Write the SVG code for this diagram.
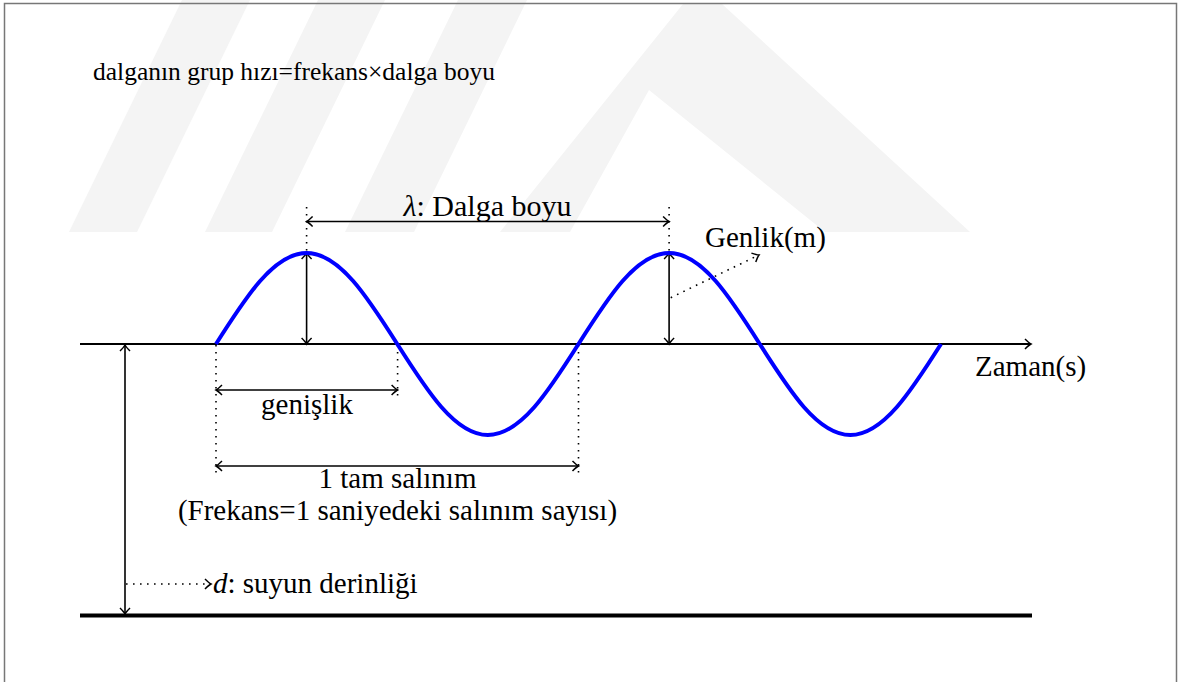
<svg xmlns="http://www.w3.org/2000/svg" width="1179" height="682" viewBox="0 0 1179 682">
<style>
text{font-family:"Liberation Serif","Times New Roman",serif;font-size:29px;fill:#000}
.title{font-size:25.5px}
.lam{font-size:30px}
.it{font-style:italic}
.ln{stroke:#000;stroke-width:1.6;fill:none}
.dot{stroke:#000;stroke-width:1.6;fill:none;stroke-dasharray:1.6 5.4}
.wm{fill:#f4f4f4;stroke:none}
</style>
<defs>
<marker id="ah" viewBox="-8 -6 10 12" markerWidth="10" markerHeight="12" refX="0" refY="0" orient="auto-start-reverse" markerUnits="userSpaceOnUse">
<path d="M-6,-5 Q-2,-1 0,0 Q-2,1 -6,5" fill="none" stroke="#000" stroke-width="1.5"/>
</marker>
</defs>
<rect x="0" y="0" width="1179" height="682" fill="#fff"/>
<g id="watermark">
<polygon class="wm" points="69,232 137,232 250,0 182,0"/>
<polygon class="wm" points="205,232 272,232 385,0 318,0"/>
<polygon class="wm" points="345,232 414,232 527,0 458,0"/>
<polygon class="wm" points="500,232 570,232 649,90 825,232 970,232 722,4 683,4"/>
</g>
<rect id="frame" x="4.5" y="3.5" width="1172" height="700" fill="none" stroke="#777" stroke-width="1.5"/>
<g id="connectors">
<line id="axis" x1="80" y1="344" x2="1031" y2="344" stroke="#000" stroke-width="2" marker-end="url(#ah)"/>
<line id="seabed" x1="80" y1="615.5" x2="1032" y2="615.5" stroke="#000" stroke-width="4"/>
<line class="dot" x1="306.6" y1="207" x2="306.6" y2="253"/>
<line class="dot" x1="669.1" y1="207" x2="669.1" y2="253"/>
<line class="ln" x1="306.6" y1="221.5" x2="669.1" y2="221.5" marker-start="url(#ah)" marker-end="url(#ah)"/>
<line class="ln" x1="306.6" y1="253" x2="306.6" y2="344" marker-start="url(#ah)" marker-end="url(#ah)"/>
<line class="ln" x1="669.1" y1="253" x2="669.1" y2="344" marker-start="url(#ah)" marker-end="url(#ah)"/>
<line class="dot" x1="670.7" y1="297.7" x2="759" y2="255" marker-end="url(#ah)"/>
<line class="dot" x1="216" y1="345" x2="216" y2="475"/>
<line class="dot" x1="397.6" y1="345" x2="397.6" y2="397"/>
<line class="dot" x1="578.5" y1="345" x2="578.5" y2="475"/>
<line class="ln" x1="216" y1="390" x2="397.6" y2="390" marker-start="url(#ah)" marker-end="url(#ah)"/>
<line class="ln" x1="216" y1="466" x2="578.5" y2="466" marker-start="url(#ah)" marker-end="url(#ah)"/>
<line class="ln" x1="125" y1="345" x2="125" y2="614" marker-start="url(#ah)" marker-end="url(#ah)"/>
<line class="dot" x1="126" y1="584" x2="211" y2="584" marker-end="url(#ah)"/>
</g>
<g id="wave">
<path d="M216,344 c29.556,-46.62 57.83,-91 90.625,-91 c32.795,0 61.069,44.38 90.625,91 c29.556,46.62 57.83,91 90.625,91 c32.795,0 61.069,-44.38 90.625,-91 c29.556,-46.62 57.83,-91 90.625,-91 c32.795,0 61.069,44.38 90.625,91 c29.556,46.62 57.83,91 90.625,91 c32.795,0 61.069,-44.38 90.625,-91" fill="none" stroke="#0000ff" stroke-width="4"/>
</g>
<g id="title"><text class="title" x="93" y="80">dalganın grup hızı=frekans×dalga boyu</text></g>
<g id="lambda-label"><text class="lam" x="487.5" y="216" text-anchor="middle"><tspan class="it">λ</tspan>: Dalga boyu</text></g>
<g id="genlik-label"><text x="705" y="247">Genlik(m)</text></g>
<g id="zaman-label"><text x="975" y="376">Zaman(s)</text></g>
<g id="genislik-label"><text x="307" y="414" text-anchor="middle">genişlik</text></g>
<g id="salinim-label"><text x="397.5" y="488" text-anchor="middle">1 tam salınım</text>
<text x="397.5" y="520" text-anchor="middle">(Frekans=1 saniyedeki salınım sayısı)</text></g>
<g id="depth-label"><text x="213" y="593"><tspan class="it">d</tspan>: suyun derinliği</text></g>
</svg>
